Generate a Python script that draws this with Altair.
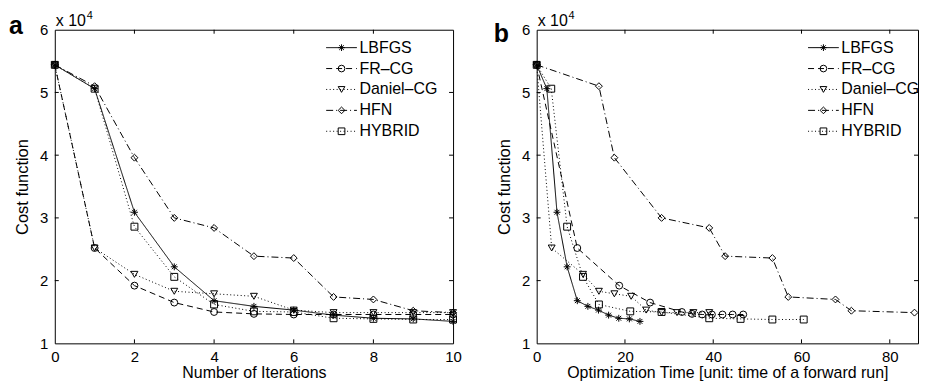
import altair as alt
import pandas as pd

# ---------------- data ----------------
series = ["LBFGS", "FR\u2013CG", "Daniel\u2013CG", "HFN", "HYBRID"]
markers = ["*", "o", "v", "d", "s"]  # MATLAB marker codes for each series

iterations = list(range(11))
cost_lbfgs = [5.44, 5.06, 3.09, 2.22, 1.68, 1.59, 1.53, 1.45, 1.40, 1.39, 1.35]
cost_frcg = [5.44, 2.52, 1.92, 1.65, 1.50, 1.47, 1.46, 1.46, 1.46, 1.46, 1.46]
cost_daniel = [5.44, 2.52, 2.10, 1.83, 1.79, 1.75, 1.53, 1.49, 1.49, 1.49, 1.49]
cost_hfn = [5.44, 5.10, 3.96, 3.00, 2.84, 2.39, 2.36, 1.74, 1.70, 1.52, 1.49]
cost_hybrid = [5.44, 5.06, 2.86, 2.06, 1.62, 1.51, 1.50, 1.40, 1.39, 1.38, 1.38]

time_lbfgs = [0, 2.3, 4.6, 6.9, 9.2, 11.6, 14.0, 16.3, 18.6, 21.0, 23.4]
time_frcg = [0, 9.2, 18.7, 25.7, 32.9, 35.2, 37.5, 39.7, 42.1, 44.4, 46.8]
time_daniel = [0, 3.4, 10.5, 14.1, 17.6, 21.4, 24.8, 28.3, 31.8, 35.5, 39.1]
time_hfn = [0, 14.1, 17.6, 28.3, 39.1, 42.7, 53.4, 57.0, 67.7, 71.3, 85.6]
time_hybrid = [0, 3.3, 6.9, 10.5, 14.1, 21.2, 28.3, 39.1, 46.2, 53.4, 60.5]

xticks_a = [0, 2, 4, 6, 8, 10]
xticks_b = [0, 20, 40, 60, 80]
yticks = [1, 2, 3, 4, 5, 6]

costs = [cost_lbfgs, cost_frcg, cost_daniel, cost_hfn, cost_hybrid]
times = [time_lbfgs, time_frcg, time_daniel, time_hfn, time_hybrid]

# ---------------- styles ----------------
FONT = "Liberation Sans"
ASTERISK = "M-1,0L1,0M0,-1L0,1M-0.7,-0.7L0.7,0.7M-0.7,0.7L0.7,-0.7"
shapes = [ASTERISK, "circle", "triangle-down", "diamond", "square"]
dashes = [[1, 0], [6, 4], [1, 2.5], [7, 3, 1, 3], [1, 2.5]]
LEG_LINE = "M-4.6,0L4.6,0"


def build_df(xlists):
    rows = []
    for name, mk, xs, ys in zip(series, markers, xlists, costs):
        for x, y in zip(xs, ys):
            rows.append({"Series": name, "Marker": mk, "x": x, "cost": y})
    return pd.DataFrame(rows)


df_a = build_df([iterations] * 5)
df_b = build_df(times)


def panel(df, xdom, xt, xtitle, W, H, letter, letter_x, letter_y, lx, ly):
    xs = alt.Scale(domain=xdom, nice=False, zero=False)
    ys = alt.Scale(domain=[1, 6], nice=False, zero=False)
    xax = alt.Axis(values=xt, title=xtitle, grid=False, ticks=False,
                   domain=False, labelPadding=6, titlePadding=0, labelFlush=False,
                   labelFontSize=15, titleFontSize=16)
    yax = alt.Axis(values=yticks, title="Cost function", grid=False,
                   ticks=False, domain=False, labelPadding=7, labelFlush=False,
                   titlePadding=9, labelFontSize=15, titleFontSize=16.5)

    lines = alt.Chart(df).mark_line(color="black", strokeWidth=1).encode(
        x=alt.X("x:Q", scale=xs, axis=xax),
        y=alt.Y("cost:Q", scale=ys, axis=yax),
        strokeDash=alt.StrokeDash(
            "Series:N",
            scale=alt.Scale(domain=series, range=dashes),
            legend=alt.Legend(title=None, orient="none", legendX=lx, legendY=ly,
                              symbolType=LEG_LINE, symbolSize=45,
                              symbolStrokeWidth=1, symbolStrokeColor="black",
                              labelFontSize=16, labelOffset=10, rowPadding=5,
                              padding=0, labelColor="black", labelFont=FONT),
        ),
    )
    points = alt.Chart(df).mark_point(filled=False, color="black", size=48,
                                      strokeWidth=1, opacity=1).encode(
        x=alt.X("x:Q", scale=xs, axis=xax),
        y=alt.Y("cost:Q", scale=ys, axis=yax),
        shape=alt.Shape(
            "Marker:N",
            scale=alt.Scale(domain=markers, range=shapes),
            legend=alt.Legend(title=None, orient="none", legendX=lx, legendY=ly,
                              symbolSize=45, symbolStrokeWidth=1,
                              symbolStrokeColor="black", symbolFillColor="transparent",
                              labelFontSize=16, labelOffset=10, rowPadding=5,
                              padding=0, labelExpr="''", labelFont=FONT),
        ),
    )

    xt_in = pd.DataFrame({"x": [v for v in xt if xdom[0] < v < xdom[1]]})
    yt_in = pd.DataFrame({"cost": [v for v in yticks if 1 < v < 6]})
    tick_bottom = alt.Chart(xt_in).mark_rule(color="black", strokeWidth=1).encode(
        x=alt.X("x:Q", scale=xs, axis=xax), y=alt.value(H), y2=alt.value(H - 4))
    tick_top = alt.Chart(xt_in).mark_rule(color="black", strokeWidth=1).encode(
        x=alt.X("x:Q", scale=xs, axis=xax), y=alt.value(0), y2=alt.value(4))
    tick_left = alt.Chart(yt_in).mark_rule(color="black", strokeWidth=1).encode(
        y=alt.Y("cost:Q", scale=ys, axis=yax), x=alt.value(0), x2=alt.value(4))
    tick_right = alt.Chart(yt_in).mark_rule(color="black", strokeWidth=1).encode(
        y=alt.Y("cost:Q", scale=ys, axis=yax), x=alt.value(W), x2=alt.value(W - 4))

    txt = pd.DataFrame({"t": ["x 10"], "e": ["4"], "l": [letter]})
    mult = alt.Chart(txt).mark_text(align="left", baseline="alphabetic", fontSize=16,
                                    font=FONT, color="black").encode(
        text="t:N", x=alt.value(1), y=alt.value(-4))
    expo = alt.Chart(txt).mark_text(align="left", baseline="alphabetic", fontSize=11,
                                    font=FONT, color="black").encode(
        text="e:N", x=alt.value(32), y=alt.value(-11))
    lab = alt.Chart(txt).mark_text(align="left", baseline="alphabetic", fontSize=25,
                                   fontWeight="bold", font=FONT, color="black").encode(
        text="l:N", x=alt.value(letter_x), y=alt.value(letter_y))

    return alt.layer(lines, points, tick_bottom, tick_top, tick_left, tick_right,
                     mult, expo, lab).properties(width=W, height=H)


pa = panel(df_a, [0, 10], xticks_a, "Number of Iterations", 400, 315,
           "a", -46, 4, 280, 10)
pb = panel(df_b, [0, 86.4], xticks_b, "Optimization Time [unit: time of a forward run]",
           383, 315, "b", -43, 12, 280, 10)

chart = (
    alt.hconcat(pa, pb, spacing=31)
    .resolve_scale(strokeDash="independent", shape="independent")
    .resolve_legend(strokeDash="independent", shape="independent")
    .properties(padding={"left": 0, "top": 0, "right": 0, "bottom": 0})
    .configure(font=FONT)
    .configure_view(stroke="black", strokeWidth=1)
    .configure_axis(labelColor="black", titleColor="black", titleFontWeight="normal",
                    labelFont=FONT, titleFont=FONT)
)

chart.save("out.html", embed_options={"renderer": "svg", "actions": False})
